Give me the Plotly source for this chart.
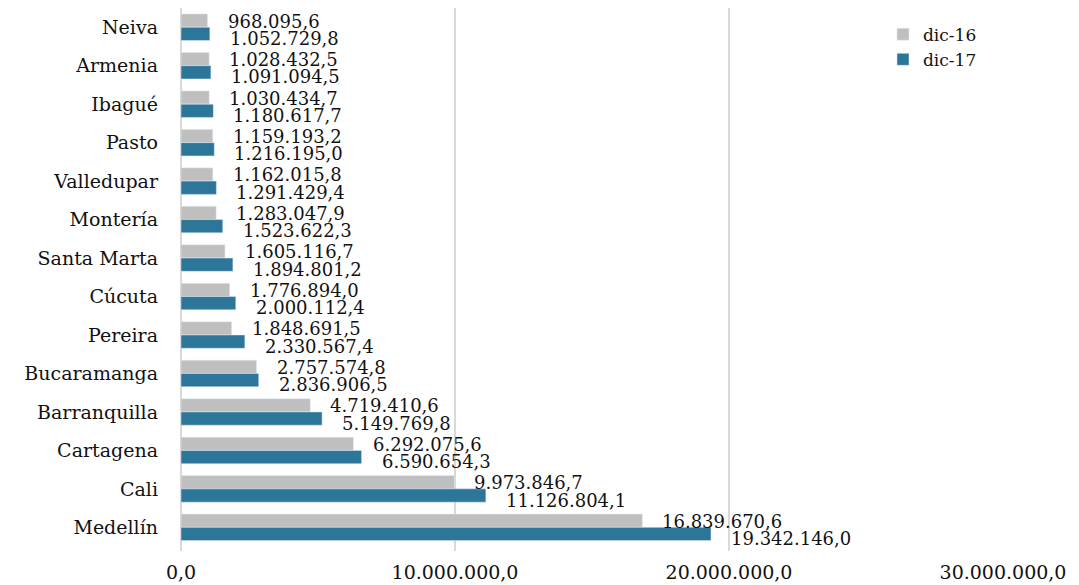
import plotly.graph_objects as go

font_family = "DejaVu Serif, Liberation Serif, serif"

ciudades = ["Neiva", "Armenia", "Ibagué", "Pasto", "Valledupar", "Montería", "Santa Marta",
            "Cúcuta", "Pereira", "Bucaramanga", "Barranquilla", "Cartagena", "Cali", "Medellín"]
dic16 = [968095.6, 1028432.5, 1030434.7, 1159193.2, 1162015.8, 1283047.9, 1605116.7,
         1776894.0, 1848691.5, 2757574.8, 4719410.6, 6292075.6, 9973846.7, 16839670.6]
dic17 = [1052729.8, 1091094.5, 1180617.7, 1216195.0, 1291429.4, 1523622.3, 1894801.2,
         2000112.4, 2330567.4, 2836906.5, 5149769.8, 6590654.3, 11126804.1, 19342146.0]
x_ticks = [0, 10000000, 20000000, 30000000]


def fmt(v):
    # formato español: punto para miles, coma decimal
    s = f"{v:,.1f}"
    return s.replace(",", "X").replace(".", ",").replace("X", ".")


gris, azul = "#bfbfbf", "#2c7699"

fig = go.Figure()
fig.add_trace(go.Bar(y=ciudades, x=dic16, name="dic-16", orientation="h",
                     marker_color=gris, hoverinfo="skip"))
fig.add_trace(go.Bar(y=ciudades, x=dic17, name="dic-17", orientation="h",
                     marker_color=azul, hoverinfo="skip"))

# etiquetas de datos
annots = []
for i, c in enumerate(ciudades):
    annots.append(dict(x=dic16[i], y=i - 0.16, text=fmt(dic16[i]), xanchor="left", yanchor="middle",
                       xshift=18, showarrow=False, font=dict(size=18, color="#111")))
    annots.append(dict(x=dic17[i], y=i + 0.29, text=fmt(dic17[i]), xanchor="left", yanchor="middle",
                       xshift=18, showarrow=False, font=dict(size=18, color="#111")))

# la página html deja 8px de margen en el body, se descuenta aquí
fig.update_layout(
    width=1071, height=577,
    margin=dict(l=173, r=76, t=0, b=34, autoexpand=False),
    barmode="group", bargap=0.31, bargroupgap=0,
    plot_bgcolor="white", paper_bgcolor="white",
    font=dict(family=font_family, size=19, color="#111"),
    legend=dict(x=0.854, y=0.984, xanchor="left", yanchor="top", itemwidth=30,
                font=dict(size=17), bgcolor="rgba(0,0,0,0)", tracegroupgap=0),
    annotations=annots,
)
fig.update_xaxes(range=[0, 30000000], tickvals=x_ticks, ticktext=[fmt(v) for v in x_ticks],
                 showgrid=True, gridcolor="#d9d9d9", gridwidth=2, automargin=False,
                 zeroline=True, zerolinecolor="#d9d9d9", zerolinewidth=2,
                 ticks="", ticklabelstandoff=8, tickfont=dict(size=19))
fig.update_yaxes(autorange="reversed", type="category", ticks="", ticklabelstandoff=22,
                 showgrid=False, automargin=False, tickfont=dict(size=19))

fig.write_html("out.html")
